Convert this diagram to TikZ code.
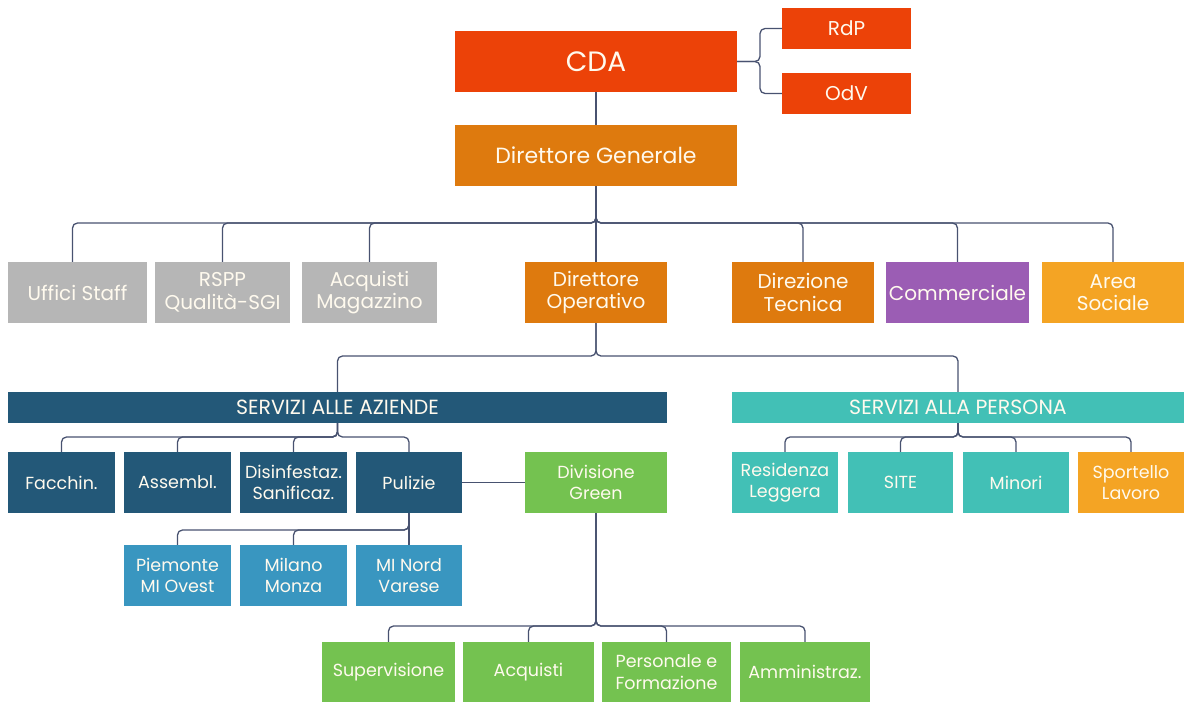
\documentclass[tikz,border=0pt]{standalone}
\usepackage{fontspec}
\setmainfont{Poppins}

\definecolor{cdared}{RGB}{236,66,8}
\definecolor{dirorange}{RGB}{222,122,14}
\definecolor{staffgray}{RGB}{182,182,182}
\definecolor{commpurple}{RGB}{155,93,180}
\definecolor{socialamber}{RGB}{244,164,36}
\definecolor{aziendeblue}{RGB}{35,88,120}
\definecolor{zonablue}{RGB}{57,150,192}
\definecolor{personateal}{RGB}{66,192,182}
\definecolor{greengreen}{RGB}{116,194,80}
\definecolor{linkcol}{RGB}{72,82,112}
\definecolor{boxtext}{RGB}{255,250,238}

\begin{document}
\begin{tikzpicture}[
    x=1pt, y=-1pt,
    every node/.style={inner sep=0pt, align=center, text=boxtext},
    box/.style={minimum height=61pt, font=\fontsize{17.5}{21.5}\selectfont},
    topbox/.style={box, font=\fontsize{20}{22.5}\selectfont},
    bar/.style={minimum height=31pt, font=\fontsize{20.5}{22}\selectfont},
    link/.style={draw=linkcol, line width=1.3pt, rounded corners=5pt},
]
\useasboundingbox (0,0) rectangle (1189,702);

% vertice
\node[box, fill=cdared, minimum width=282pt, font=\fontsize{28}{30}\selectfont] (cda) at (596,61.5) {CDA};
\node[fill=cdared, minimum width=129pt, minimum height=41pt, font=\fontsize{20}{22}\selectfont] (rdp) at (846.5,28.5) {RdP};
\node[fill=cdared, minimum width=129pt, minimum height=41pt, font=\fontsize{20}{22}\selectfont] (odv) at (846.5,93.5) {OdV};
\node[box, fill=dirorange, minimum width=282pt, font=\fontsize{22}{24}\selectfont] (dg) at (596,155.5) {Direttore Generale};

% secondo livello
\node[topbox, fill=staffgray, minimum width=139pt] (uff) at (77.5,292.5) {Uffici Staff};
\node[topbox, fill=staffgray, minimum width=135pt] (rspp) at (222.5,292.5) {RSPP\\Qualità-SGI};
\node[topbox, fill=staffgray, minimum width=135pt] (acq) at (369.5,292.5) {Acquisti\\Magazzino};
\node[topbox, fill=dirorange, minimum width=142pt] (dop) at (596,292.5) {Direttore\\Operativo};
\node[topbox, fill=dirorange, minimum width=142pt] (dtec) at (803,292.5) {Direzione\\Tecnica};
\node[topbox, fill=commpurple, minimum width=143pt] (comm) at (957.5,292.5) {Commerciale};
\node[topbox, fill=socialamber, minimum width=142pt] (area) at (1113,292.5) {Area\\Sociale};

% servizi
\node[bar, fill=aziendeblue, minimum width=659pt] (azi) at (337.5,407.5) {SERVIZI ALLE AZIENDE};
\node[bar, fill=personateal, minimum width=452pt] (per) at (958,407.5) {SERVIZI ALLA PERSONA};

\node[box, fill=aziendeblue, minimum width=107pt] (facc) at (61.5,482.5) {Facchin.};
\node[box, fill=aziendeblue, minimum width=107pt] (assm) at (177.5,482.5) {Assembl.};
\node[box, fill=aziendeblue, minimum width=107pt] (disi) at (293.5,482.5) {Disinfestaz.\\Sanificaz.};
\node[box, fill=aziendeblue, minimum width=106pt] (puli) at (409,482.5) {Pulizie};
\node[box, fill=greengreen, minimum width=142pt] (green) at (596,482.5) {Divisione\\Green};

\node[box, fill=personateal, minimum width=106pt] (resi) at (785,482.5) {Residenza\\Leggera};
\node[box, fill=personateal, minimum width=105pt] (site) at (900.5,482.5) {SITE};
\node[box, fill=personateal, minimum width=106pt] (mino) at (1016,482.5) {Minori};
\node[box, fill=socialamber, minimum width=106pt] (spor) at (1131,482.5) {Sportello\\Lavoro};

% zone pulizie
\node[box, fill=zonablue, minimum width=107pt] (piem) at (177.5,575.5) {Piemonte\\MI Ovest};
\node[box, fill=zonablue, minimum width=107pt] (mila) at (293.5,575.5) {Milano\\Monza};
\node[box, fill=zonablue, minimum width=106pt] (mnord) at (409,575.5) {MI Nord\\Varese};

% divisione green
\node[box, fill=greengreen, minimum width=133pt, minimum height=60pt] (sup) at (388.5,672) {Supervisione};
\node[box, fill=greengreen, minimum width=131pt, minimum height=60pt] (acqg) at (528.5,672) {Acquisti};
\node[box, fill=greengreen, minimum width=129pt, minimum height=60pt] (pers) at (666.5,672) {Personale e\\Formazione};
\node[box, fill=greengreen, minimum width=130pt, minimum height=60pt] (amm) at (805,672) {Amministraz.};

% collegamenti
\coordinate (brk) at (760,61.5);
\coordinate (bus2) at (596,223);
\coordinate (bus3) at (596,356);
\coordinate (bus4a) at (337.5,437);
\coordinate (bus4p) at (958,437);
\coordinate (bus5) at (409,530);
\coordinate (bus6) at (596,626);

\draw[link] (cda.east) -- (brk) |- (rdp.west);
\draw[link] (cda.east) -- (brk) |- (odv.west);
\draw[link] (cda.south) -- (dg.north);
\draw[link] (dg.south) -- (dop.north);
\draw[link] (dg.south) -- (bus2) -| ([xshift=-5pt]uff.north);
\foreach \n in {rspp,acq,dtec,comm,area}
  \draw[link] (dg.south) -- (bus2) -| (\n.north);
\draw[link] (dop.south) -- (bus3) -| (azi.north);
\draw[link] (dop.south) -- (bus3) -| (per.north);
\foreach \n in {facc,assm,disi,puli}
  \draw[link] (azi.south) -- (bus4a) -| (\n.north);
\foreach \n in {resi,site,mino,spor}
  \draw[link] (per.south) -- (bus4p) -| (\n.north);
\draw[link] (puli.east) -- (green.west);
\draw[link] (puli.south) -- (mnord.north);
\foreach \n in {piem,mila}
  \draw[link] (puli.south) -- (bus5) -| (\n.north);
\foreach \n in {sup,acqg,pers,amm}
  \draw[link] (green.south) -- (bus6) -| (\n.north);
\end{tikzpicture}
\end{document}
